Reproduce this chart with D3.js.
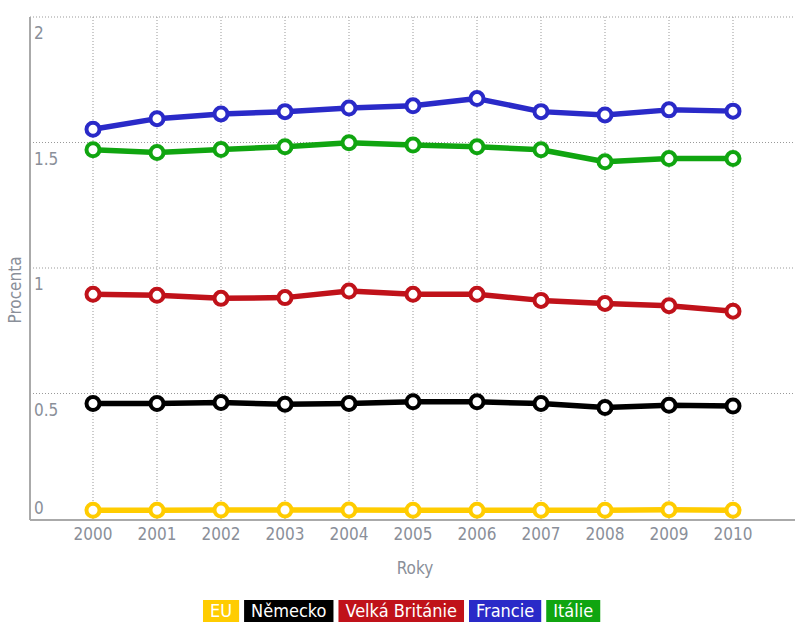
<!DOCTYPE html>
<html>
<head>
<meta charset="utf-8">
<script src="https://cdn.jsdelivr.net/npm/d3@7"></script>
<style>
  body { margin: 0; background: #fff; }
  svg text { font-family: "Liberation Sans Narrow", "DejaVu Sans Condensed", sans-serif; }
</style>
</head>
<body>
<svg id="chart" width="795" height="626"></svg>
<script>
// data
var years = ["2000", "2001", "2002", "2003", "2004", "2005", "2006", "2007", "2008", "2009", "2010"];
var yTicks = [0, 0.5, 1, 1.5, 2];
var seriesNames = ["EU", "Německo", "Velká Británie", "Francie", "Itálie"];
var seriesColors = ["#ffcc00", "#000000", "#c0121a", "#2a2ac8", "#10a510"];
var euValues = [0.035, 0.035, 0.036, 0.036, 0.036, 0.035, 0.035, 0.035, 0.035, 0.037, 0.035];
var nemeckoValues = [0.46, 0.46, 0.464, 0.457, 0.46, 0.467, 0.467, 0.46, 0.444, 0.453, 0.45];
var britanieValues = [0.895, 0.891, 0.879, 0.882, 0.908, 0.895, 0.895, 0.871, 0.859, 0.85, 0.828];
var francieValues = [1.553, 1.595, 1.614, 1.623, 1.637, 1.646, 1.675, 1.623, 1.61, 1.63, 1.625];
var italieValues = [1.471, 1.46, 1.472, 1.483, 1.499, 1.49, 1.483, 1.471, 1.423, 1.436, 1.436];
var allValues = [euValues, nemeckoValues, britanieValues, francieValues, italieValues];

var svg = d3.select("#chart");
var plotLeft = 30, plotRight = 797, plotTop = 17, plotBottom = 519;
var labelColor = "#8a8f99";

var x = d3.scalePoint().domain(years).range([plotLeft - 1, plotRight]).padding(1);
var y = d3.scaleLinear().domain([0, 2]).range([plotBottom, plotTop]);

// grid
var grid = svg.append("g");
grid.selectAll(".vg")
  .data(years)
  .enter().append("line")
  .attr("x1", function (d) { return x(d); })
  .attr("x2", function (d) { return x(d); })
  .attr("y1", plotTop)
  .attr("y2", plotBottom)
  .attr("stroke", "#999")
  .attr("stroke-dasharray", "1,2");

grid.selectAll(".hg")
  .data(yTicks.filter(function (d) { return d > 0; }))
  .enter().append("line")
  .attr("x1", plotLeft)
  .attr("x2", 795)
  .attr("y1", function (d) { return y(d); })
  .attr("y2", function (d) { return y(d); })
  .attr("stroke", "#999")
  .attr("stroke-dasharray", "1,2");

// axes lines
svg.append("line")
  .attr("x1", plotLeft).attr("x2", plotLeft)
  .attr("y1", plotTop).attr("y2", plotBottom + 1)
  .attr("stroke", "#aaa").attr("stroke-width", 2);
svg.append("line")
  .attr("x1", plotLeft).attr("x2", 795)
  .attr("y1", plotBottom + 1).attr("y2", plotBottom + 1)
  .attr("stroke", "#aaa").attr("stroke-width", 2);

// y tick labels (inside the plot)
svg.selectAll(".ylab")
  .data(yTicks)
  .enter().append("text")
  .attr("x", plotLeft + 4)
  .attr("y", function (d) { return d === 0 ? y(d) - 5 : y(d) + 22; })
  .attr("fill", labelColor)
  .style("font-size", "17px")
  .text(function (d) { return d; });

// x tick labels
svg.selectAll(".xlab")
  .data(years)
  .enter().append("text")
  .attr("x", function (d) { return x(d); })
  .attr("y", 540)
  .attr("text-anchor", "middle")
  .attr("fill", labelColor)
  .style("font-size", "17px")
  .text(function (d) { return d; });

svg.append("text")
  .attr("x", 415).attr("y", 574)
  .attr("text-anchor", "middle")
  .attr("fill", labelColor)
  .style("font-size", "17px")
  .text("Roky");

svg.append("text")
  .attr("transform", "translate(21,290) rotate(-90)")
  .attr("text-anchor", "middle")
  .attr("fill", labelColor)
  .style("font-size", "17px")
  .text("Procenta");

// lines
var line = d3.line()
  .x(function (d, i) { return x(years[i]); })
  .y(function (d) { return y(d); });

allValues.forEach(function (vals, s) {
  var g = svg.append("g");
  g.append("path")
    .datum(vals)
    .attr("d", line)
    .attr("fill", "none")
    .attr("stroke", seriesColors[s])
    .attr("stroke-width", 5.5)
    .attr("stroke-linejoin", "round");
  g.selectAll("circle")
    .data(vals)
    .enter().append("circle")
    .attr("cx", function (d, i) { return x(years[i]); })
    .attr("cy", function (d) { return y(d); })
    .attr("r", 6.5)
    .attr("fill", "#fff")
    .attr("stroke", seriesColors[s])
    .attr("stroke-width", 4);
});

// legend
var legend = svg.append("g");
var lx = 203, pad = 7, gap = 5;
seriesNames.forEach(function (name, i) {
  var item = legend.append("g");
  var rect = item.append("rect")
    .attr("y", 600)
    .attr("height", 22)
    .attr("fill", seriesColors[i]);
  var t = item.append("text")
    .attr("y", 617)
    .attr("fill", "#fff")
    .style("font-size", "18px")
    .text(name);
  var w = t.node().getComputedTextLength() + pad * 2;
  rect.attr("x", lx).attr("width", w);
  t.attr("x", lx + pad);
  lx += w + gap;
});
</script>
</body>
</html>
